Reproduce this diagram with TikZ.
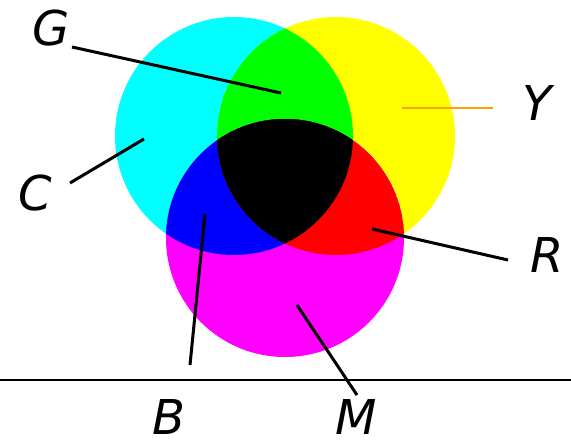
\documentclass[tikz,border=0pt]{standalone}
\usepackage{fontspec}
\newfontfamily\letterfont{DejaVu Sans}

\definecolor{inkcyan}{RGB}{0,255,255}
\definecolor{inkyellow}{RGB}{255,255,0}
\definecolor{inkmagenta}{RGB}{255,0,255}
\definecolor{mixgreen}{RGB}{0,255,0}
\definecolor{mixblue}{RGB}{0,0,255}
\definecolor{mixred}{RGB}{255,0,0}
\definecolor{tagorange}{RGB}{255,160,0}

\tikzset{
    letter/.style={
        font=\letterfont\itshape\fontsize{48}{48}\selectfont,
        inner sep=0pt
    },
    pointer/.style={line width=3pt}
}

\begin{document}
\begin{tikzpicture}[x=1pt,y=-1pt]
        \useasboundingbox (0,0) rectangle (571,441);
        \def\rad{119}

        \coordinate (cyanc) at (234,136);
        \coordinate (yellowc) at (336,136);
        \coordinate (magentac) at (285,238);

        % the three inks
        \fill[inkcyan] (cyanc) circle[radius=\rad];
        \fill[inkyellow] (yellowc) circle[radius=\rad];
        \fill[inkmagenta] (magentac) circle[radius=\rad];

        % overlaps
        \begin{scope}
            \clip (cyanc) circle[radius=\rad];
            \fill[mixgreen] (yellowc) circle[radius=\rad];
            \fill[mixblue] (magentac) circle[radius=\rad];
            \clip (yellowc) circle[radius=\rad];
            \fill[black] (magentac) circle[radius=\rad];
        \end{scope}
        \begin{scope}
            \clip (yellowc) circle[radius=\rad];
            \clip (magentac) circle[radius=\rad];
            \fill[mixred] (magentac) circle[radius=\rad];
            \clip (cyanc) circle[radius=\rad];
            \fill[black] (magentac) circle[radius=\rad];
        \end{scope}

        \draw[line width=2pt] (0,380) -- (571,380);

        \node[letter] (G) at (51,28) {G};
        \node[letter] (C) at (35,193) {C};
        \node[letter] (Y) at (537,103) {Y};
        \node[letter] (R) at (547,255) {R};
        \node[letter] (B) at (169,417) {B};
        \node[letter] (M) at (356,417) {M};

        \coordinate (g-out) at (72,47);
        \coordinate (g-in) at (281,93);
        \coordinate (c-out) at (70,183);
        \coordinate (c-in) at (144,139);
        \coordinate (y-out) at (493,108);
        \coordinate (y-in) at (402,108);
        \coordinate (r-out) at (508,260);
        \coordinate (r-in) at (372,229);
        \coordinate (b-out) at (190,365);
        \coordinate (b-in) at (205,214);
        \coordinate (m-out) at (357,395);
        \coordinate (m-in) at (297,305);

        \draw[pointer] (g-out) -- (g-in);
        \draw[pointer] (c-out) -- (c-in);
        \draw[line width=2.5pt, tagorange] (y-out) -- (y-in);
        \draw[pointer] (r-out) -- (r-in);
        \draw[pointer] (b-out) -- (b-in);
        \draw[pointer] (m-out) -- (m-in);
    \end{tikzpicture}
\end{document}
